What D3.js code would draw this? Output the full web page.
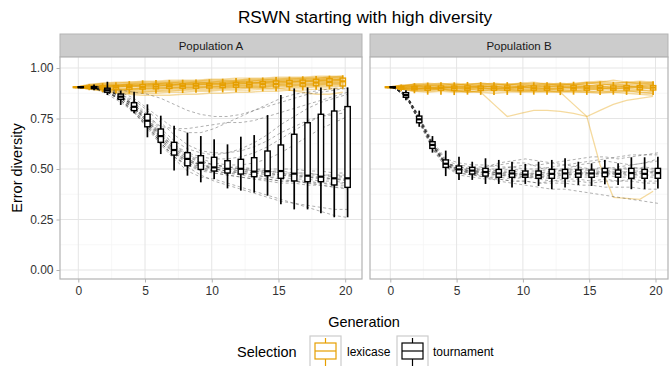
<!DOCTYPE html>
<html>
<head>
<meta charset="utf-8">
<script src="https://cdn.jsdelivr.net/npm/d3@7"></script>
<style>
  body { margin: 0; background: #fff; }
  text { font-family: "Liberation Sans", Arial, sans-serif; }
</style>
</head>
<body>
<svg id="chart" width="670" height="366"></svg>
<script>
// ---- data ----
const generations = [0,1,2,3,4,5,6,7,8,9,10,11,12,13,14,15,16,17,18,19,20];
const xTicks = [0, 5, 10, 15, 20];
const yTicks = [0, 0.25, 0.5, 0.75, 1];
const yTickLabels = ['0.00', '0.25', '0.50', '0.75', '1.00'];
const panels = ['Population A', 'Population B'];
const selections = ['lexicase', 'tournament'];

// box stats per generation: [lower whisker, q1, median, q3, upper whisker]
const boxLexA = [
  [.900,.903,.905,.907,.910],[.890,.900,.905,.910,.920],[.880,.897,.905,.912,.925],
  [.875,.895,.905,.913,.930],[.873,.895,.906,.915,.935],[.873,.896,.906,.918,.939],
  [.874,.897,.908,.919,.940],[.875,.899,.910,.920,.941],[.876,.900,.911,.921,.942],
  [.877,.900,.912,.922,.943],[.878,.901,.913,.922,.944],[.879,.903,.915,.925,.947],
  [.880,.905,.917,.928,.950],[.882,.906,.918,.930,.951],[.884,.906,.920,.932,.953],
  [.885,.906,.921,.936,.955],[.887,.908,.923,.938,.957],[.889,.910,.925,.940,.959],
  [.892,.912,.928,.944,.961],[.895,.913,.931,.947,.962],[.898,.911,.934,.950,.964]
];
const boxTourA = [
  [.900,.903,.905,.907,.910],[.890,.898,.903,.908,.918],[.866,.880,.890,.900,.932],
  [.817,.845,.858,.871,.888],[.776,.789,.808,.828,.883],[.657,.709,.739,.771,.820],
  [.574,.632,.663,.698,.764],[.492,.569,.594,.632,.714],[.467,.516,.550,.581,.680],
  [.434,.498,.531,.566,.663],[.450,.490,.508,.558,.647],[.404,.480,.501,.541,.622],
  [.393,.475,.501,.548,.660],[.383,.462,.487,.556,.668],[.368,.467,.489,.589,.767],
  [.325,.454,.490,.619,.866],[.300,.441,.477,.672,.899],[.300,.437,.467,.729,.904],
  [.281,.437,.462,.771,.904],[.261,.421,.454,.787,.899],[.261,.409,.454,.809,.904]
];
const boxLexB = [
  [.900,.903,.905,.907,.910],[.885,.895,.902,.908,.918],[.875,.892,.900,.909,.925],
  [.868,.890,.900,.910,.928],[.867,.890,.901,.911,.930],[.866,.889,.900,.910,.929],
  [.868,.890,.900,.911,.931],[.867,.889,.899,.910,.930],[.866,.890,.900,.910,.929],
  [.867,.890,.901,.911,.930],[.866,.889,.900,.910,.931],[.868,.890,.900,.911,.929],
  [.867,.890,.900,.910,.930],[.866,.889,.899,.910,.929],[.868,.891,.901,.912,.932],
  [.867,.890,.900,.911,.931],[.866,.890,.901,.912,.933],[.868,.890,.899,.911,.931],
  [.867,.891,.901,.912,.932],[.868,.892,.904,.913,.933],[.866,.891,.903,.913,.934]
];
const boxTourB = [
  [.900,.903,.905,.907,.910],[.840,.855,.866,.878,.890],[.709,.729,.746,.762,.789],
  [.581,.602,.619,.635,.663],[.465,.508,.526,.545,.591],[.446,.479,.498,.515,.561],
  [.446,.475,.492,.508,.536],[.426,.465,.485,.503,.553],[.426,.459,.478,.498,.545],
  [.409,.459,.478,.492,.536],[.426,.459,.472,.490,.525],[.416,.454,.470,.490,.536],
  [.400,.454,.476,.498,.545],[.408,.454,.478,.498,.553],[.421,.459,.478,.495,.536],
  [.416,.459,.478,.495,.528],[.424,.462,.483,.503,.545],[.421,.459,.476,.495,.528],
  [.400,.454,.480,.503,.558],[.400,.454,.476,.498,.558],[.404,.454,.480,.503,.561]
];

// individual runs (a representative subset)
const runsLexA = [
  [.905,.92,.925,.93,.93,.935,.935,.94,.94,.94,.945,.945,.95,.95,.95,.955,.955,.955,.96,.96,.96],
  [.905,.90,.895,.89,.885,.885,.885,.89,.89,.895,.895,.90,.90,.905,.905,.91,.91,.91,.915,.915,.92],
  [.905,.91,.91,.91,.915,.915,.92,.92,.92,.925,.925,.925,.93,.93,.93,.935,.935,.94,.94,.94,.945],
  [.905,.90,.90,.90,.90,.90,.905,.905,.905,.91,.91,.91,.915,.915,.915,.92,.92,.92,.925,.925,.93],
  [.905,.895,.885,.875,.87,.865,.865,.865,.87,.87,.875,.875,.88,.88,.885,.885,.89,.89,.895,.895,.90],
  [.905,.915,.92,.915,.92,.925,.92,.93,.925,.93,.93,.935,.935,.94,.94,.945,.945,.95,.95,.955,.955],
  [.905,.90,.905,.91,.905,.91,.91,.915,.915,.915,.92,.92,.92,.925,.925,.925,.93,.93,.935,.935,.94],
  [.905,.895,.89,.885,.88,.88,.885,.885,.89,.89,.89,.895,.895,.90,.90,.90,.905,.905,.91,.91,.915],
  [.905,.91,.915,.92,.92,.92,.925,.925,.93,.93,.93,.935,.935,.935,.94,.94,.94,.945,.945,.95,.95],
  [.905,.90,.90,.895,.895,.90,.90,.90,.905,.905,.905,.91,.91,.91,.91,.915,.915,.92,.92,.925,.925],
  [.905,.90,.895,.89,.89,.895,.895,.90,.90,.90,.905,.905,.905,.90,.90,.90,.89,.88,.87,.87,.88],
  [.905,.91,.91,.915,.91,.915,.92,.915,.92,.92,.92,.925,.93,.925,.93,.935,.93,.935,.94,.945,.94],
  [.905,.905,.90,.905,.91,.905,.91,.91,.91,.915,.915,.915,.92,.92,.925,.92,.925,.93,.93,.93,.935],
  [.905,.915,.925,.925,.93,.93,.93,.93,.935,.935,.94,.94,.94,.945,.945,.945,.95,.95,.95,.955,.96],
  [.905,.90,.89,.89,.89,.89,.89,.895,.895,.90,.90,.90,.905,.905,.905,.91,.91,.915,.915,.92,.92],
  [.905,.91,.905,.91,.915,.91,.915,.915,.92,.92,.925,.92,.925,.925,.93,.93,.935,.935,.935,.94,.945],
  [.905,.91,.915,.915,.92,.92,.925,.925,.925,.93,.93,.93,.935,.935,.94,.94,.945,.945,.945,.95,.95],
  [.905,.90,.905,.905,.91,.91,.91,.915,.915,.92,.92,.92,.925,.925,.925,.93,.93,.935,.935,.94,.94],
  [.905,.90,.895,.895,.895,.90,.90,.905,.905,.905,.91,.91,.915,.915,.92,.92,.92,.925,.925,.93,.93],
  [.905,.915,.92,.925,.925,.93,.93,.935,.935,.935,.94,.94,.94,.945,.945,.95,.95,.95,.955,.955,.955],
  [.905,.905,.91,.91,.91,.915,.915,.915,.92,.92,.92,.92,.925,.925,.93,.93,.93,.935,.935,.935,.94],
  [.905,.90,.895,.89,.895,.895,.90,.90,.90,.905,.905,.905,.91,.91,.91,.915,.915,.915,.92,.92,.925],
  [.905,.895,.89,.88,.875,.875,.875,.88,.88,.885,.885,.89,.89,.89,.895,.895,.90,.90,.905,.905,.91],
  [.905,.91,.91,.915,.92,.92,.92,.925,.925,.925,.93,.93,.93,.935,.935,.935,.94,.94,.94,.945,.945]
];
const runsTourA = [
  [.905,.90,.88,.84,.78,.71,.63,.56,.52,.50,.48,.47,.46,.45,.44,.43,.43,.42,.42,.41,.41],
  [.905,.90,.87,.83,.78,.70,.62,.55,.49,.46,.45,.43,.41,.39,.37,.35,.33,.31,.29,.27,.26],
  [.905,.90,.89,.86,.81,.74,.66,.59,.55,.52,.50,.49,.48,.47,.46,.46,.45,.45,.44,.44,.43],
  [.905,.91,.89,.87,.82,.76,.69,.62,.57,.54,.52,.51,.50,.50,.49,.49,.48,.48,.47,.47,.46],
  [.905,.91,.90,.87,.83,.77,.70,.64,.60,.58,.57,.58,.60,.63,.67,.72,.76,.80,.83,.85,.87],
  [.905,.91,.90,.88,.85,.80,.75,.70,.68,.68,.70,.73,.76,.79,.82,.85,.87,.88,.89,.90,.90],
  [.905,.90,.89,.86,.81,.75,.68,.62,.58,.56,.55,.55,.56,.58,.61,.65,.69,.73,.76,.78,.80],
  [.905,.90,.88,.85,.80,.73,.65,.58,.53,.50,.49,.48,.48,.47,.46,.45,.44,.43,.42,.41,.40],
  [.905,.90,.89,.85,.79,.72,.64,.57,.53,.51,.49,.48,.47,.46,.45,.44,.44,.43,.43,.42,.42],
  [.905,.91,.90,.89,.88,.87,.85,.82,.79,.77,.76,.76,.77,.79,.81,.83,.85,.87,.88,.89,.90],
  [.905,.90,.89,.86,.82,.76,.71,.70,.70,.71,.72,.73,.73,.74,.76,.78,.80,.82,.84,.86,.88],
  [.905,.90,.88,.84,.78,.71,.63,.56,.52,.49,.48,.47,.46,.45,.45,.44,.44,.44,.43,.43,.43],
  [.905,.90,.88,.84,.79,.71,.63,.56,.51,.47,.44,.42,.40,.38,.36,.34,.33,.32,.31,.30,.30],
  [.905,.90,.89,.86,.81,.74,.67,.60,.56,.54,.52,.51,.51,.50,.50,.50,.50,.49,.49,.48,.48],
  [.905,.90,.88,.85,.80,.74,.67,.61,.57,.55,.53,.52,.52,.53,.55,.58,.62,.66,.70,.73,.76],
  [.905,.90,.89,.87,.84,.79,.73,.67,.62,.59,.58,.58,.59,.61,.64,.68,.71,.74,.76,.77,.78],
  [.905,.90,.89,.86,.80,.73,.66,.60,.55,.52,.51,.50,.49,.49,.48,.47,.47,.46,.46,.45,.45],
  [.905,.90,.88,.85,.80,.74,.66,.59,.54,.52,.50,.49,.49,.48,.48,.47,.47,.46,.45,.45,.44],
  [.905,.90,.89,.86,.81,.73,.65,.58,.54,.52,.51,.50,.50,.49,.49,.48,.48,.48,.47,.47,.47],
  [.905,.90,.88,.84,.79,.72,.64,.58,.54,.51,.50,.49,.48,.48,.47,.47,.46,.46,.46,.45,.45],
  [.905,.90,.89,.86,.82,.75,.67,.61,.56,.53,.52,.51,.50,.49,.49,.48,.47,.47,.47,.46,.46]
];
const runsLexB = [
  [.905,.91,.92,.915,.92,.915,.92,.92,.915,.92,.925,.92,.915,.92,.925,.93,.935,.93,.925,.93,.925],
  [.905,.895,.89,.885,.89,.885,.88,.885,.89,.885,.88,.885,.89,.885,.88,.88,.885,.88,.875,.87,.865],
  [.905,.90,.905,.90,.90,.905,.90,.905,.90,.90,.905,.90,.90,.905,.90,.90,.905,.90,.905,.905,.90],
  [.905,.91,.905,.91,.91,.905,.91,.91,.91,.905,.91,.915,.91,.91,.915,.91,.915,.92,.915,.91,.915],
  [.905,.895,.90,.895,.895,.89,.895,.89,.895,.89,.89,.895,.89,.895,.89,.895,.89,.89,.885,.89,.885],
  [.905,.915,.91,.92,.91,.915,.91,.915,.92,.915,.91,.91,.915,.92,.915,.92,.93,.94,.93,.92,.915],
  [.905,.90,.895,.90,.905,.90,.895,.90,.895,.90,.90,.895,.90,.895,.90,.895,.90,.895,.90,.895,.90],
  [.905,.90,.895,.89,.895,.89,.885,.88,.82,.76,.775,.79,.79,.785,.775,.76,.52,.36,.355,.35,.39],
  [.905,.90,.90,.895,.90,.90,.895,.90,.895,.89,.89,.89,.885,.88,.82,.76,.79,.82,.84,.85,.86],
  [.905,.91,.915,.91,.92,.92,.915,.925,.92,.92,.915,.92,.925,.92,.915,.925,.92,.915,.92,.925,.92],
  [.905,.895,.885,.88,.885,.88,.885,.88,.875,.88,.885,.88,.885,.88,.885,.88,.875,.88,.885,.88,.875],
  [.905,.91,.92,.925,.92,.925,.92,.92,.925,.92,.92,.925,.92,.915,.92,.925,.93,.925,.93,.935,.93],
  [.905,.905,.91,.905,.90,.91,.905,.91,.905,.91,.905,.91,.905,.91,.905,.91,.905,.91,.91,.905,.91],
  [.905,.90,.91,.915,.91,.90,.905,.915,.91,.90,.905,.915,.92,.91,.905,.91,.92,.915,.905,.91,.92],
  [.905,.895,.89,.90,.895,.885,.89,.895,.90,.895,.885,.89,.895,.89,.885,.89,.895,.90,.895,.89,.885],
  [.905,.91,.915,.905,.91,.92,.915,.905,.91,.915,.92,.91,.905,.915,.92,.915,.91,.905,.915,.92,.925],
  [.905,.90,.895,.905,.90,.895,.90,.91,.905,.895,.90,.905,.895,.90,.905,.90,.895,.905,.91,.90,.895],
  [.905,.895,.885,.89,.895,.89,.88,.89,.885,.89,.895,.885,.88,.885,.89,.885,.88,.885,.89,.88,.875],
  [.905,.915,.92,.92,.925,.915,.92,.925,.92,.915,.925,.93,.92,.925,.92,.93,.925,.92,.93,.925,.93],
  [.905,.90,.91,.90,.905,.91,.90,.905,.91,.90,.905,.90,.91,.905,.90,.905,.91,.90,.905,.91,.905],
  [.905,.91,.90,.895,.90,.905,.91,.90,.895,.905,.91,.90,.895,.90,.91,.905,.90,.895,.90,.905,.90]
];
const runsTourB = [
  [.905,.87,.75,.62,.53,.50,.49,.48,.47,.47,.46,.46,.47,.47,.48,.48,.48,.47,.47,.47,.47],
  [.905,.86,.73,.60,.51,.48,.47,.46,.45,.44,.44,.43,.43,.43,.42,.42,.41,.41,.41,.40,.40],
  [.905,.87,.76,.64,.55,.53,.52,.52,.51,.51,.50,.50,.51,.52,.53,.54,.55,.56,.57,.57,.58],
  [.905,.86,.74,.61,.52,.49,.49,.50,.50,.51,.52,.52,.53,.52,.51,.50,.50,.51,.52,.53,.54],
  [.905,.87,.75,.63,.54,.50,.48,.46,.44,.43,.42,.41,.40,.40,.39,.38,.37,.36,.35,.34,.33],
  [.905,.87,.75,.62,.53,.51,.50,.49,.49,.48,.47,.48,.49,.49,.48,.48,.49,.48,.49,.49,.49],
  [.905,.86,.74,.62,.52,.49,.48,.48,.47,.47,.47,.46,.46,.47,.47,.47,.48,.48,.47,.48,.48],
  [.905,.87,.76,.63,.54,.52,.51,.51,.52,.53,.53,.51,.50,.50,.52,.53,.54,.53,.52,.53,.55],
  [.905,.86,.73,.60,.51,.47,.46,.45,.45,.44,.44,.43,.44,.45,.45,.44,.45,.44,.44,.43,.43],
  [.905,.87,.75,.62,.53,.50,.49,.49,.48,.49,.48,.48,.48,.50,.50,.49,.49,.50,.51,.50,.50],
  [.905,.87,.76,.62,.52,.50,.50,.51,.53,.54,.55,.54,.53,.54,.55,.56,.56,.55,.56,.57,.57],
  [.905,.86,.74,.61,.52,.48,.47,.46,.46,.45,.46,.45,.44,.44,.44,.43,.44,.44,.45,.44,.44],
  [.905,.87,.75,.62,.52,.50,.49,.48,.48,.47,.48,.47,.48,.48,.49,.48,.48,.49,.48,.49,.48],
  [.905,.86,.74,.61,.53,.49,.48,.49,.48,.48,.47,.47,.47,.48,.47,.48,.47,.48,.48,.48,.49],
  [.905,.87,.75,.63,.53,.51,.50,.50,.49,.50,.49,.49,.50,.49,.50,.50,.51,.50,.50,.51,.50],
  [.905,.86,.74,.61,.52,.49,.48,.47,.47,.46,.46,.46,.45,.46,.46,.46,.47,.46,.46,.46,.46]
];

const colors = { lexicase: '#E69F00', tournament: '#000000' };
const dodge = { lexicase: -0.18, tournament: 0.18 };
const boxW = 0.4;

// ---- layout ----
const svg = d3.select('#chart');
const panelTop = 57, panelBottom = 279;
const layout = [
  { name: panels[0], left: 60, right: 362, x0: 78.3, x20: 345.2,
    box: { lexicase: boxLexA, tournament: boxTourA }, runs: { lexicase: runsLexA, tournament: runsTourA } },
  { name: panels[1], left: 370, right: 668, x0: 390.3, x20: 655.5,
    box: { lexicase: boxLexB, tournament: boxTourB }, runs: { lexicase: runsLexB, tournament: runsTourB } }
];

const y = d3.scaleLinear().domain([0, 1]).range([270, 68]);

svg.append('text')
  .attr('x', 365).attr('y', 23)
  .attr('text-anchor', 'middle')
  .attr('font-size', 17.2).attr('fill', '#000')
  .text('RSWN starting with high diversity');

layout.forEach(function(p, i) {
  const x = d3.scaleLinear().domain([0, 20]).range([p.x0, p.x20]);
  const g = svg.append('g');

  // strip
  g.append('rect')
    .attr('x', p.left).attr('y', 34)
    .attr('width', p.right - p.left).attr('height', panelTop - 34)
    .attr('fill', '#cccccc').attr('stroke', '#b3b3b3').attr('stroke-width', 1);
  g.append('text')
    .attr('x', (p.left + p.right) / 2).attr('y', 50)
    .attr('text-anchor', 'middle').attr('font-size', 11.5).attr('fill', '#1a1a1a')
    .text(p.name);

  g.append('rect')
    .attr('x', p.left).attr('y', panelTop)
    .attr('width', p.right - p.left).attr('height', panelBottom - panelTop)
    .attr('fill', '#fff');

  // grid
  const minorX = [2.5, 7.5, 12.5, 17.5];
  const minorY = [0.125, 0.375, 0.625, 0.875];
  g.selectAll('.gmx').data(minorX).enter().append('line')
    .attr('x1', d => x(d)).attr('x2', d => x(d))
    .attr('y1', panelTop).attr('y2', panelBottom)
    .attr('stroke', '#f3f3f3').attr('stroke-width', 0.7);
  g.selectAll('.gmy').data(minorY).enter().append('line')
    .attr('x1', p.left).attr('x2', p.right)
    .attr('y1', d => y(d)).attr('y2', d => y(d))
    .attr('stroke', '#f3f3f3').attr('stroke-width', 0.7);
  g.selectAll('.gx').data(xTicks).enter().append('line')
    .attr('x1', d => x(d)).attr('x2', d => x(d))
    .attr('y1', panelTop).attr('y2', panelBottom)
    .attr('stroke', '#e5e5e5').attr('stroke-width', 1);
  g.selectAll('.gy').data(yTicks).enter().append('line')
    .attr('x1', p.left).attr('x2', p.right)
    .attr('y1', d => y(d)).attr('y2', d => y(d))
    .attr('stroke', '#e5e5e5').attr('stroke-width', 1);

  // run lines
  const clipId = 'clip' + i;
  svg.append('clipPath').attr('id', clipId).append('rect')
    .attr('x', p.left).attr('y', panelTop)
    .attr('width', p.right - p.left).attr('height', panelBottom - panelTop);
  const plot = g.append('g').attr('clip-path', 'url(#' + clipId + ')');

  selections.forEach(function(sel) {
    const line = d3.line()
      .x((v, k) => x(generations[k] + dodge[sel]))
      .y(v => y(v));
    plot.selectAll('.run-' + sel).data(p.runs[sel]).enter().append('path')
      .attr('d', line)
      .attr('fill', 'none')
      .attr('stroke', sel === 'lexicase' ? colors.lexicase : '#222')
      .attr('stroke-opacity', sel === 'lexicase' ? 0.38 : 0.45)
      .attr('stroke-width', sel === 'lexicase' ? 1.3 : 0.8)
      .attr('stroke-dasharray', sel === 'lexicase' ? null : '3,2.5');
  });

  // boxplots
  selections.forEach(function(sel) {
    const c = colors[sel];
    const bx = plot.selectAll('.box-' + sel).data(p.box[sel]).enter().append('g');
    bx.append('line')
      .attr('x1', (d, k) => x(generations[k] + dodge[sel]))
      .attr('x2', (d, k) => x(generations[k] + dodge[sel]))
      .attr('y1', d => y(d[0])).attr('y2', d => y(d[4]))
      .attr('stroke', c).attr('stroke-width', 1.7);
    bx.append('rect')
      .attr('x', (d, k) => x(generations[k] + dodge[sel] - boxW / 2))
      .attr('width', (d, k) => x(boxW) - x(0))
      .attr('y', d => y(d[3]))
      .attr('height', d => y(d[1]) - y(d[3]))
      .attr('fill', '#fff').attr('fill-opacity', sel === 'lexicase' ? 0.35 : 1)
      .attr('stroke', c).attr('stroke-width', 1.4);
    bx.append('line')
      .attr('x1', (d, k) => x(generations[k] + dodge[sel] - boxW / 2))
      .attr('x2', (d, k) => x(generations[k] + dodge[sel] + boxW / 2))
      .attr('y1', d => y(d[2])).attr('y2', d => y(d[2]))
      .attr('stroke', c).attr('stroke-width', 2.2);
  });

  // panel border
  g.append('rect')
    .attr('x', p.left).attr('y', panelTop)
    .attr('width', p.right - p.left).attr('height', panelBottom - panelTop)
    .attr('fill', 'none').attr('stroke', '#b3b3b3').attr('stroke-width', 1.2);

  // x axis
  const xa = g.append('g').attr('transform', 'translate(0,' + panelBottom + ')')
    .call(d3.axisBottom(x).tickValues(xTicks).tickSize(3.5).tickPadding(4));
  xa.select('.domain').remove();
  xa.selectAll('line').attr('stroke', '#b3b3b3');
  xa.selectAll('text').attr('font-size', 12).attr('fill', '#333');

  if (i === 0) {
    const ya = g.append('g').attr('transform', 'translate(' + p.left + ',0)')
      .call(d3.axisLeft(y).tickValues(yTicks).tickFormat((d, k) => yTickLabels[k]).tickSize(3.5).tickPadding(3));
    ya.select('.domain').remove();
    ya.selectAll('line').attr('stroke', '#b3b3b3');
    ya.selectAll('text').attr('font-size', 12).attr('fill', '#333');
  }
});

// axis titles
svg.append('text')
  .attr('x', 364).attr('y', 327)
  .attr('text-anchor', 'middle').attr('font-size', 14.5).attr('fill', '#000')
  .text('Generation');
svg.append('text')
  .attr('transform', 'translate(22,' + (panelTop + panelBottom) / 2 + ') rotate(-90)')
  .attr('text-anchor', 'middle').attr('font-size', 14.5).attr('fill', '#000')
  .text('Error diversity');

// legend
const legend = svg.append('g');
legend.append('text')
  .attr('x', 237).attr('y', 357)
  .attr('font-size', 14.5).attr('fill', '#000')
  .text('Selection');
const keyX = { lexicase: 310, tournament: 397 };
const keyLabelX = { lexicase: 347, tournament: 433 };
selections.forEach(function(sel) {
  const kx = keyX[sel], c = colors[sel];
  legend.append('rect')
    .attr('x', kx).attr('y', 336).attr('width', 31).attr('height', 34)
    .attr('fill', '#fff').attr('stroke', '#cccccc').attr('stroke-width', 1.2);
  legend.append('line')
    .attr('x1', kx + 15.5).attr('x2', kx + 15.5).attr('y1', 338).attr('y2', 366)
    .attr('stroke', c).attr('stroke-width', 1.2);
  legend.append('rect')
    .attr('x', kx + 5).attr('y', 343).attr('width', 21).attr('height', 16)
    .attr('fill', '#fff').attr('stroke', c).attr('stroke-width', 1.2);
  legend.append('line')
    .attr('x1', kx + 5).attr('x2', kx + 26).attr('y1', 351).attr('y2', 351)
    .attr('stroke', c).attr('stroke-width', 1.2);
  legend.append('text')
    .attr('x', keyLabelX[sel]).attr('y', 356)
    .attr('font-size', 12).attr('fill', '#000')
    .text(sel);
});
</script>
</body>
</html>
